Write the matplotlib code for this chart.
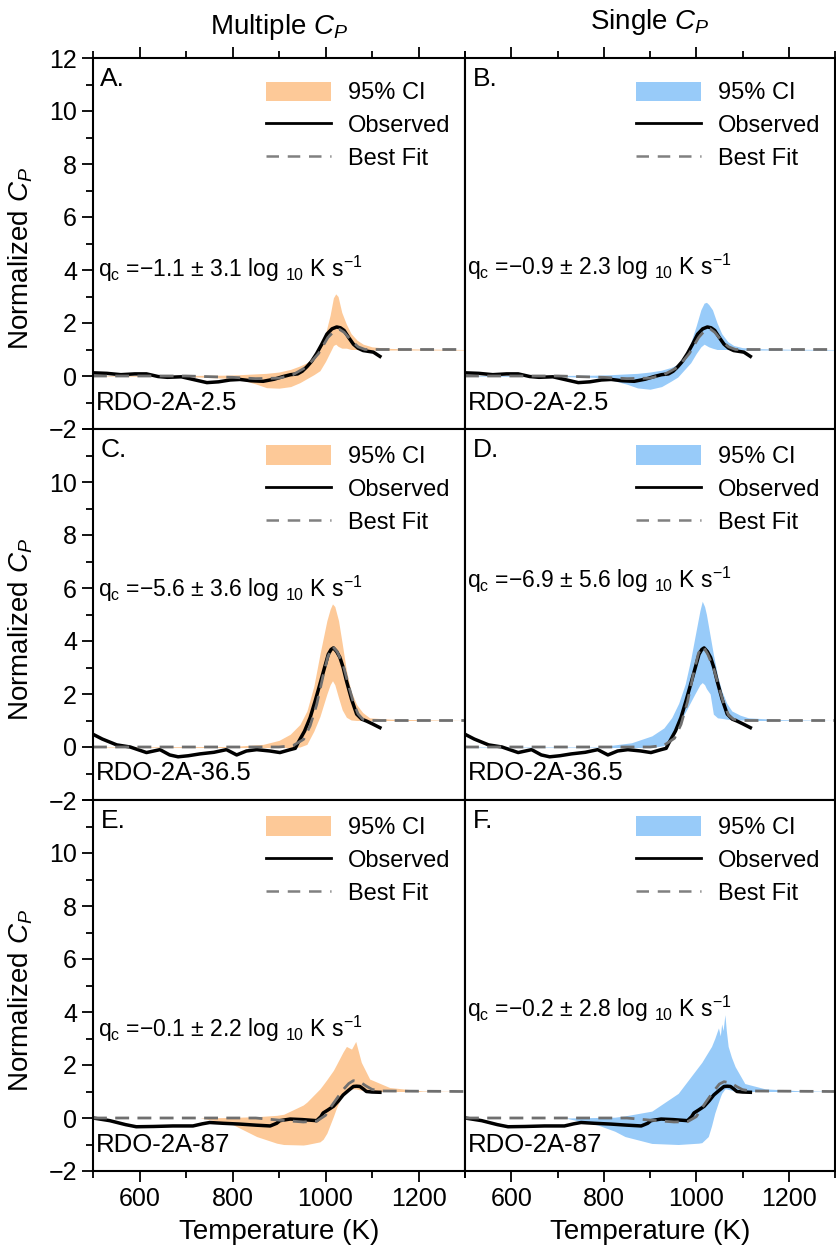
import matplotlib
matplotlib.use("Agg")
import matplotlib.pyplot as plt
from matplotlib.patches import Patch
from matplotlib.lines import Line2D
from matplotlib.ticker import MultipleLocator

plt.rcParams['font.family'] = ['Liberation Sans', 'DejaVu Sans']
plt.rcParams['mathtext.fontset'] = 'custom'
plt.rcParams['mathtext.rm'] = 'Liberation Sans'
plt.rcParams['mathtext.it'] = 'Liberation Sans:italic'

# ---- dados ----
ORANGE = '#fdc998'
BLUE = '#98cbf9'

# linha 1: RDO-2A-2.5
obs1_T = [500, 530, 560, 590, 615, 640, 660, 690, 720, 745, 770, 795, 816, 840, 866, 890, 909, 925, 940,
          950, 960, 970, 981, 992, 1003, 1014, 1024, 1032, 1040, 1050, 1060, 1070, 1081, 1092, 1103, 1110, 1117]
obs1_v = [0.12, 0.1, 0.05, 0.08, 0.08, -0.02, -0.05, -0.03, -0.15, -0.25, -0.22, -0.15, -0.13, -0.18, -0.2,
          -0.12, -0.02, 0.05, 0.08, 0.18, 0.35, 0.55, 0.85, 1.2, 1.58, 1.78, 1.85, 1.82, 1.72, 1.45, 1.2, 1.05,
          0.96, 0.93, 0.9, 0.82, 0.74]
fitA_T = [500, 700, 800, 850, 900, 930, 960, 985, 1005, 1020, 1030, 1040, 1055, 1070, 1085, 1100, 1300]
fitA_v = [0, 0, -0.05, -0.1, -0.08, 0.05, 0.35, 0.85, 1.45, 1.72, 1.76, 1.65, 1.35, 1.1, 1.0, 1.0, 1.0]
fitB_v = [0, 0, -0.05, -0.1, -0.08, 0.05, 0.33, 0.85, 1.45, 1.75, 1.78, 1.65, 1.33, 1.1, 1.0, 1.0, 1.0]
ci1_T = [500, 700, 780, 816, 850, 873, 900, 925, 945, 960, 975, 988, 1000, 1010, 1017, 1022, 1027, 1035,
         1045, 1055, 1068, 1081, 1100, 1140, 1200, 1300]
ciA_hi = [0.02, 0.02, 0.03, 0.05, 0.08, 0.1, 0.15, 0.25, 0.38, 0.5, 0.75, 1.07, 1.6, 2.3, 2.95, 3.1, 3.0,
          2.4, 1.95, 1.6, 1.35, 1.2, 1.1, 1.04, 1.02, 1.0]
ciA_lo = [0.0, -0.02, -0.08, -0.13, -0.3, -0.44, -0.46, -0.4, -0.25, -0.1, 0.05, 0.2, 0.55, 0.9, 1.15,
          1.2, 1.12, 1.05, 1.05, 1.0, 1.0, 0.98, 0.98, 0.98, 0.98, 0.98]
ciB_hi = [0.02, 0.02, 0.03, 0.05, 0.08, 0.1, 0.15, 0.22, 0.32, 0.44, 0.75, 1.25, 1.9, 2.5, 2.75, 2.78,
          2.7, 2.5, 2.0, 1.6, 1.3, 1.15, 1.07, 1.03, 1.01, 1.0]
ciB_lo = [0.0, -0.02, -0.05, -0.15, -0.31, -0.45, -0.5, -0.4, -0.2, -0.04, 0.25, 0.5, 0.85, 1.1, 1.2,
          1.15, 1.1, 1.05, 1.0, 1.0, 1.0, 0.98, 0.98, 0.98, 0.98, 0.98]

# linha 2: RDO-2A-36.5
obs2_T = [500, 520, 551, 580, 615, 644, 665, 683, 705, 730, 760, 787, 809, 830, 852, 880, 902, 924, 935,
          941, 955, 967, 978, 988, 998, 1006, 1012, 1017, 1024, 1031, 1038, 1045, 1056, 1067, 1078, 1088,
          1100, 1117]
obs2_v = [0.48, 0.3, 0.08, 0.0, -0.21, -0.1, -0.3, -0.37, -0.33, -0.26, -0.2, -0.1, -0.3, -0.15, -0.1,
          -0.15, -0.21, -0.1, -0.05, 0.16, 0.6, 1.11, 1.75, 2.37, 3.0, 3.5, 3.68, 3.74, 3.6, 3.38, 3.0, 2.5,
          1.8, 1.24, 1.05, 0.98, 0.88, 0.73]
fitC_T = [500, 900, 930, 953, 967, 981, 995, 1005, 1015, 1025, 1038, 1050, 1060, 1070, 1080, 1100, 1300]
fitC_v = [0, 0, 0.05, 0.29, 0.8, 1.6, 2.7, 3.4, 3.8, 3.6, 3.1, 2.3, 1.68, 1.25, 1.05, 1.0, 1.0]
fitD_v = [0, 0, 0.06, 0.33, 0.85, 1.7, 2.85, 3.55, 3.8, 3.5, 2.95, 2.2, 1.6, 1.2, 1.05, 1.0, 1.0]
ciC_T = [500, 800, 866, 900, 924, 945, 960, 975, 988, 1003, 1010, 1015, 1020, 1028, 1036, 1045, 1055,
         1067, 1080, 1095, 1140, 1300]
ciC_hi = [0.0, 0.02, 0.1, 0.25, 0.48, 0.85, 1.36, 2.3, 3.5, 4.77, 5.2, 5.4, 5.3, 4.77, 3.9, 2.88, 2.1,
          1.6, 1.3, 1.1, 1.05, 1.0]
ciC_lo = [-0.02, -0.02, -0.02, -0.02, -0.02, 0.0, 0.1, 0.6, 1.15, 2.0, 2.35, 2.5, 2.35, 1.86, 1.4, 1.12,
          1.02, 1.0, 1.0, 1.0, 1.0, 1.0]
ciD_T = [500, 788, 860, 904, 930, 947, 962, 976, 988, 997, 1008, 1013, 1018, 1022, 1030, 1037, 1046,
         1055, 1066, 1077, 1095, 1113, 1185, 1300]
ciD_hi = [0.0, 0.0, 0.16, 0.42, 0.72, 1.11, 1.65, 2.37, 3.3, 4.14, 5.15, 5.5, 5.3, 5.0, 4.2, 3.5, 2.7,
          2.12, 1.65, 1.36, 1.2, 1.1, 1.03, 1.0]
ciD_lo = [-0.02, -0.02, -0.02, -0.02, 0.05, 0.4, 0.85, 1.3, 1.7, 2.0, 2.35, 2.43, 2.35, 2.2, 2.0, 1.24,
          1.1, 1.08, 1.05, 1.03, 1.02, 1.0, 1.0, 1.0]

# linha 3: RDO-2A-87
obs3_T = [500, 536, 570, 593, 630, 672, 715, 735, 751, 780, 816, 850, 881, 895, 902, 924, 950, 981, 990,
          995, 1005, 1017, 1028, 1038, 1050, 1060, 1067, 1074, 1081, 1088, 1100, 1117]
obs3_v = [0.0, -0.1, -0.25, -0.33, -0.32, -0.3, -0.3, -0.22, -0.17, -0.2, -0.23, -0.27, -0.3, -0.2, -0.1,
          -0.04, -0.06, -0.1, 0.05, 0.19, 0.3, 0.44, 0.65, 0.87, 1.05, 1.19, 1.2, 1.19, 1.1, 1.0, 0.98, 0.97]
fitE_T = [500, 850, 900, 952, 981, 1000, 1010, 1025, 1038, 1050, 1060, 1075, 1088, 1100, 1117, 1300]
fitE_v = [0, 0, -0.08, -0.15, -0.12, 0.1, 0.38, 0.75, 1.07, 1.3, 1.41, 1.35, 1.2, 1.08, 1.02, 1.0]
fitF_v = [0, 0, -0.08, -0.15, -0.14, 0.05, 0.32, 0.7, 1.02, 1.28, 1.37, 1.32, 1.18, 1.07, 1.02, 1.0]
ciE_T = [500, 730, 795, 852, 895, 910, 952, 960, 988, 995, 1003, 1017, 1024, 1038, 1045, 1056, 1065,
         1077, 1095, 1138, 1209, 1300]
ciE_hi = [0.0, 0.0, 0.02, 0.05, 0.1, 0.14, 0.49, 0.6, 1.1, 1.26, 1.45, 1.8, 2.03, 2.5, 2.7, 2.6, 2.89,
          2.1, 1.47, 1.15, 1.02, 1.0]
ciE_lo = [0.0, 0.0, -0.2, -0.7, -0.95, -1.0, -1.02, -1.0, -0.9, -0.8, -0.57, 0.06, 0.4, 0.93, 1.05, 1.1,
          1.1, 1.05, 1.0, 1.0, 1.0, 1.0]
ciF_T = [500, 716, 788, 824, 846, 904, 961, 1005, 1012, 1026, 1033, 1040, 1048, 1052, 1055, 1058, 1060,
         1062, 1065, 1069, 1076, 1084, 1105, 1149, 1221, 1300]
ciF_hi = [0.0, 0.0, 0.02, 0.03, 0.08, 0.26, 0.93, 1.94, 2.1, 2.5, 2.7, 3.0, 3.4, 3.1, 3.55, 3.3, 3.6, 3.9,
          3.3, 2.7, 2.3, 1.94, 1.3, 1.1, 1.03, 1.0]
ciF_lo = [0.0, 0.0, -0.27, -0.5, -0.7, -0.96, -1.0, -0.95, -0.93, -0.7, -0.3, 0.18, 0.6, 0.8, 0.93, 1.0,
          1.05, 1.1, 1.1, 1.08, 1.05, 1.0, 1.0, 1.0, 1.0, 1.0]

# painéis: (letra, amostra, texto q_c, y do texto, T obs, v obs, T fit, v fit, T ci, hi, lo, cor)
paineis = [
    ("A.", "RDO-2A-2.5", ("1.1", "3.1"), 4.05, obs1_T, obs1_v, fitA_T, fitA_v, ci1_T, ciA_hi, ciA_lo, ORANGE),
    ("B.", "RDO-2A-2.5", ("0.9", "2.3"), 4.1, obs1_T, obs1_v, fitA_T, fitB_v, ci1_T, ciB_hi, ciB_lo, BLUE),
    ("C.", "RDO-2A-36.5", ("5.6", "3.6"), 5.95, obs2_T, obs2_v, fitC_T, fitC_v, ciC_T, ciC_hi, ciC_lo, ORANGE),
    ("D.", "RDO-2A-36.5", ("6.9", "5.6"), 6.3, obs2_T, obs2_v, fitC_T, fitD_v, ciD_T, ciD_hi, ciD_lo, BLUE),
    ("E.", "RDO-2A-87", ("0.1", "2.2"), 3.35, obs3_T, obs3_v, fitE_T, fitE_v, ciE_T, ciE_hi, ciE_lo, ORANGE),
    ("F.", "RDO-2A-87", ("0.2", "2.8"), 4.1, obs3_T, obs3_v, fitE_T, fitF_v, ciF_T, ciF_hi, ciF_lo, BLUE),
]

fig = plt.figure(figsize=(8.36, 12.57), dpi=100)

lefts = [93 / 836, 465 / 836]
widths = [372 / 836, 370 / 836]
tops = [58, 429, 800]
altura = 371 / 1257
GRAY = '#6f6f6f'
DASH = (0, (5, 3))

for i, (letra, amostra, qc, yq, oT, ov, fT, fv, cT, chi, clo, cor) in enumerate(paineis):
    row, col = i // 2, i % 2
    bottom = 1 - (tops[row] + 371) / 1257
    ax = fig.add_axes([lefts[col], bottom, widths[col], altura])

    ax.fill_between(cT, clo, chi, color=cor, lw=0)
    ax.plot(oT, ov, color='black', lw=2.5)
    ax.plot(fT, fv, color=GRAY, lw=2.0, ls=DASH)

    ax.set_xlim(500, 1300)
    ax.set_ylim(-2, 12)
    for s in ax.spines.values():
        s.set_linewidth(1.5)

    # ticks
    ax.set_xticks([600, 800, 1000, 1200])
    ax.xaxis.set_minor_locator(MultipleLocator(100))
    ax.tick_params(axis='x', which='both', direction='out', width=1.3, labelsize=18,
                   top=(row == 0), bottom=(row == 2), labelbottom=(row == 2), labeltop=False)
    ax.tick_params(axis='x', which='major', length=8)
    ax.tick_params(axis='x', which='minor', length=5)

    if col == 0:
        ax.set_yticks(range(-2, 13, 2))
        rotulos = [f"{v}".replace('-', '\u2212') for v in range(-2, 13, 2)]
        if row > 0:
            rotulos[-1] = ''
        ax.set_yticklabels(rotulos)
        ax.yaxis.set_minor_locator(MultipleLocator(1))
        ax.tick_params(axis='y', which='both', direction='out', width=1.3, labelsize=18)
        ax.tick_params(axis='y', which='major', length=8)
        ax.tick_params(axis='y', which='minor', length=5)
        ax.set_ylabel(r'Normalized $C_P$', fontsize=20)
        ax.yaxis.set_label_coords(-0.155, 0.46)
    else:
        ax.set_yticks([])
        ax.tick_params(axis='y', which='both', left=False, labelleft=False)

    if row == 2:
        ax.set_xlabel('Temperature (K)', fontsize=20, labelpad=6)

    # textos dentro do painel
    ax.text(0.02, 0.975, letra, transform=ax.transAxes, fontsize=19, va='top', ha='left')
    ax.text(510 if col == 0 else 505, yq,
            r'q$_\mathregular{c}$ =$\mathregular{-}$' + qc[0] + ' \u00b1 ' + qc[1] +
            r' log $_\mathregular{10}$ K s$^\mathregular{-1}$',
            fontsize=16.5, va='center', ha='left')
    ax.text(507, -1.0, amostra, fontsize=18.5, va='center', ha='left')

    # legenda sem moldura
    handles = [Patch(facecolor=cor, edgecolor='none'),
               Line2D([], [], color='black', lw=2),
               Line2D([], [], color='#808080', lw=1.8, ls=(0, (5, 3.5)))]
    topo_leg = 0.962 if row == 0 else 0.982
    ax.legend(handles, ['95% CI', 'Observed', 'Best Fit'], loc='upper right', frameon=False,
              fontsize=17, handlelength=2.75, handleheight=0.9, handletextpad=0.75,
              labelspacing=0.42, borderaxespad=0.0, bbox_to_anchor=(0.987, topo_leg))

fig.text(279 / 836, 1 - 27 / 1257, r'Multiple $C_P$', fontsize=20, ha='center', va='center')
fig.text(650 / 836, 1 - 22 / 1257, r'Single $C_P$', fontsize=20, ha='center', va='center')

fig.savefig('out.png', dpi=100)
